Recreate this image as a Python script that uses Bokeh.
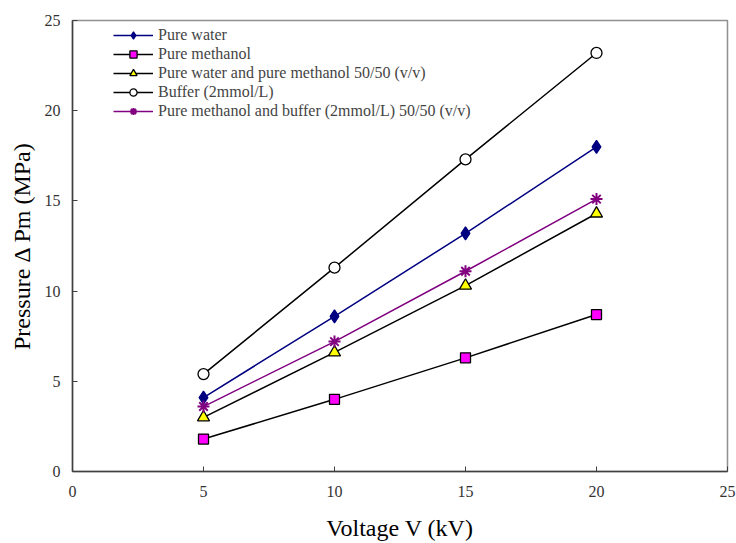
from bokeh.plotting import figure
from bokeh.models import Range1d, FixedTicker
from bokeh.embed import file_html
from bokeh.resources import INLINE

# ---- data ----
voltage = [5, 10, 15, 20]
pure_water = [4.1, 8.6, 13.2, 18.0]
pure_methanol = [1.8, 4.0, 6.3, 8.7]
water_methanol = [3.0, 6.6, 10.3, 14.3]
buffer_2mmol = [5.4, 11.3, 17.3, 23.2]
methanol_buffer = [3.6, 7.2, 11.1, 15.1]
x_ticks = [0, 5, 10, 15, 20, 25]
y_ticks = [0, 5, 10, 15, 20, 25]
names = ["Pure water", "Pure methanol",
         "Pure water and pure methanol 50/50 (v/v)",
         "Buffer (2mmol/L)",
         "Pure methanol and buffer (2mmol/L) 50/50 (v/v)"]
x_title = "Voltage V (kV)"
y_title = "Pressure Δ Pm (MPa)"

FONT = "Liberation Serif"
W, H = 736, 543
FL, FT, FR = 72, 20, 9
FB = H - 472
FW, FH = W - FL - FR, H - FT - FB

p = figure(width=W, height=H, output_backend="svg", toolbar_location=None,
           x_range=Range1d(0, 25), y_range=Range1d(0, 25),
           min_border_left=FL, min_border_right=FR,
           min_border_top=FT, min_border_bottom=FB)
p.xgrid.grid_line_color = None
p.ygrid.grid_line_color = None
p.outline_line_color = "#909090"
p.outline_line_width = 1.5
p.background_fill_color = "white"
p.border_fill_color = "white"

for ax in (p.xaxis[0], p.yaxis[0]):
    ax.axis_line_color = "#404040"
    ax.axis_line_width = 1.5
    ax.major_tick_in = 5
    ax.major_tick_out = 0
    ax.major_tick_line_color = "#404040"
    ax.minor_tick_line_color = None
    ax.major_label_text_font = FONT
    ax.major_label_text_font_size = "16px"
    ax.major_label_text_color = "#333333"
    ax.axis_label_text_font = FONT
    ax.axis_label_text_font_size = "24px"
    ax.axis_label_text_font_style = "normal"
    ax.axis_label_text_color = "black"
p.xaxis[0].ticker = FixedTicker(ticks=x_ticks)
p.yaxis[0].ticker = FixedTicker(ticks=y_ticks)
p.xaxis[0].major_label_standoff = 14
p.yaxis[0].major_label_standoff = 12
p.xaxis[0].axis_label = x_title
p.yaxis[0].axis_label = y_title
p.xaxis[0].axis_label_standoff = 15
p.yaxis[0].axis_label_standoff = 7

series = [
    (pure_water, names[0], "#000080", "diamond", "#000080", "#000080", 13, 1.3),
    (pure_methanol, names[1], "black", "square", "#FF00FF", "black", 10, 1.3),
    (water_methanol, names[2], "black", "triangle", "#FFFF00", "black", 12, 1.3),
    (buffer_2mmol, names[3], "black", "circle", "white", "black", 11, 1.3),
    (methanol_buffer, names[4], "#800080", "asterisk", "#800080", "#800080", 12, 2),
]
for vals, name, lc, mk, fc, mlc, sz, mlw in series:
    p.line(voltage, vals, line_color=lc, line_width=1.5, legend_label=name)
    p.scatter(voltage, vals, marker=mk, size=sz, fill_color=fc, line_color=mlc,
              line_width=mlw, legend_label=name)

lg = p.legend[0]
lg.location = (41, FH - 7 - 94)
lg.border_line_color = None
lg.background_fill_alpha = 0
lg.glyph_width = 40
lg.glyph_height = 18
lg.label_height = 18
lg.spacing = 1
lg.padding = 0
lg.margin = 0
lg.label_standoff = 5
lg.label_text_font = FONT
lg.label_text_font_size = "16px"

open("out.html", "w").write(file_html(p, INLINE))
